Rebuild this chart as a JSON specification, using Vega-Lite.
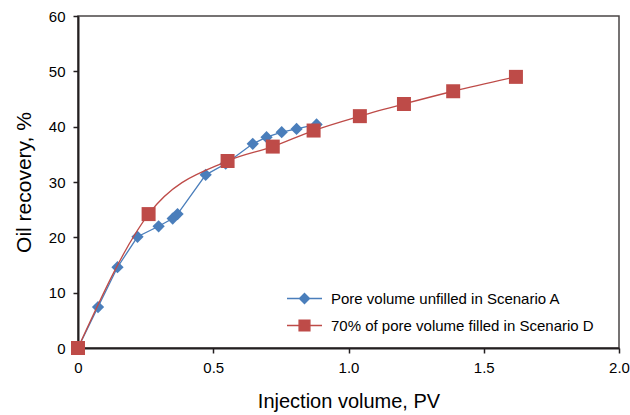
{
  "$schema": "https://vega.github.io/schema/vega-lite/v6.json",
  "width": 541,
  "height": 332,
  "autosize": {"type": "none"},
  "padding": {"left": 78, "top": 16, "right": 11, "bottom": 67},
  "background": "white",
  "config": {
    "font": "Liberation Sans",
    "view": {"stroke": "#4a4545", "strokeWidth": 1.5},
    "axis": {
      "grid": false,
      "domainColor": "#231f20",
      "domainWidth": 2,
      "tickColor": "#231f20",
      "tickWidth": 1.5,
      "tickSize": 5,
      "labelFont": "Liberation Sans",
      "labelFontSize": 15,
      "labelColor": "#000000",
      "labelFlush": false,
      "titleFont": "Liberation Sans",
      "titleFontWeight": "normal",
      "titleColor": "#000000"
    }
  },
  "data": {
    "values": [
      {"series": "Pore volume unfilled in Scenario A", "pv": 0, "rec": 0},
      {"series": "Pore volume unfilled in Scenario A", "pv": 0.074, "rec": 7.4},
      {"series": "Pore volume unfilled in Scenario A", "pv": 0.146, "rec": 14.6},
      {"series": "Pore volume unfilled in Scenario A", "pv": 0.22, "rec": 20.1},
      {"series": "Pore volume unfilled in Scenario A", "pv": 0.298, "rec": 22.0},
      {"series": "Pore volume unfilled in Scenario A", "pv": 0.35, "rec": 23.4},
      {"series": "Pore volume unfilled in Scenario A", "pv": 0.368, "rec": 24.2},
      {"series": "Pore volume unfilled in Scenario A", "pv": 0.472, "rec": 31.3},
      {"series": "Pore volume unfilled in Scenario A", "pv": 0.546, "rec": 33.3},
      {"series": "Pore volume unfilled in Scenario A", "pv": 0.646, "rec": 36.9},
      {"series": "Pore volume unfilled in Scenario A", "pv": 0.697, "rec": 38.1},
      {"series": "Pore volume unfilled in Scenario A", "pv": 0.753, "rec": 39.0},
      {"series": "Pore volume unfilled in Scenario A", "pv": 0.808, "rec": 39.6},
      {"series": "Pore volume unfilled in Scenario A", "pv": 0.882, "rec": 40.4},
      {"series": "70% of pore volume filled in Scenario D", "pv": 0, "rec": 0},
      {"series": "70% of pore volume filled in Scenario D", "pv": 0.261, "rec": 24.2},
      {"series": "70% of pore volume filled in Scenario D", "pv": 0.553, "rec": 33.8},
      {"series": "70% of pore volume filled in Scenario D", "pv": 0.72, "rec": 36.4},
      {"series": "70% of pore volume filled in Scenario D", "pv": 0.871, "rec": 39.3},
      {"series": "70% of pore volume filled in Scenario D", "pv": 1.042, "rec": 41.9},
      {"series": "70% of pore volume filled in Scenario D", "pv": 1.205, "rec": 44.1},
      {"series": "70% of pore volume filled in Scenario D", "pv": 1.387, "rec": 46.4},
      {"series": "70% of pore volume filled in Scenario D", "pv": 1.619, "rec": 49.0}
    ]
  },
  "encoding": {
    "x": {
      "field": "pv", "type": "quantitative",
      "scale": {"domain": [0, 2], "nice": false, "zero": true},
      "axis": {
        "title": "Injection volume, PV",
        "titleFontSize": 20,
        "values": [0, 0.5, 1, 1.5, 2],
        "labelExpr": "datum.value === 0 ? '0' : format(datum.value, '.1f')",
        "labelPadding": 7,
        "titlePadding": 16
      }
    },
    "y": {
      "field": "rec", "type": "quantitative",
      "scale": {"domain": [0, 60], "nice": false},
      "axis": {
        "title": "Oil recovery, %",
        "titleFontSize": 21,
        "values": [0, 10, 20, 30, 40, 50, 60],
        "labelPadding": 8,
        "titlePadding": 14
      }
    },
    "color": {
      "field": "series", "type": "nominal",
      "scale": {
        "domain": ["Pore volume unfilled in Scenario A", "70% of pore volume filled in Scenario D"],
        "range": ["#4a7ebb", "#be4b48"]
      },
      "legend": {
        "title": null,
        "orient": "none",
        "legendX": 208,
        "legendY": 264,
        "labelFont": "Liberation Sans",
        "labelFontSize": 15,
        "labelColor": "#000000",
        "labelOffset": 8,
        "labelLimit": 0,
        "symbolSize": 1225,
        "rowPadding": -4,
        "encode": {
          "symbols": {
            "update": {
              "shape": {"signal": "datum.value === 'Pore volume unfilled in Scenario A' ? 'M-1,0L1,0M0,-0.29L0.29,0L0,0.29L-0.29,0Z' : 'M-1,0L1,0M-0.31,-0.31L0.31,-0.31L0.31,0.31L-0.31,0.31Z'"},
              "fill": {"signal": "datum.value === 'Pore volume unfilled in Scenario A' ? '#4a7ebb' : '#be4b48'"},
              "stroke": {"signal": "datum.value === 'Pore volume unfilled in Scenario A' ? '#4a7ebb' : '#be4b48'"},
              "strokeWidth": {"value": 1.3},
              "opacity": {"value": 1}
            }
          }
        }
      }
    }
  },
  "layer": [
    {
      "transform": [{"filter": "datum.series === 'Pore volume unfilled in Scenario A'"}],
      "mark": {"type": "line", "strokeWidth": 1.3, "clip": false}
    },
    {
      "transform": [{"filter": "datum.series === 'Pore volume unfilled in Scenario A'"}],
      "mark": {"type": "point", "shape": "diamond", "filled": true, "size": 150, "opacity": 1, "clip": false}
    },
    {
      "transform": [{"filter": "datum.series !== 'Pore volume unfilled in Scenario A'"}],
      "mark": {"type": "line", "strokeWidth": 1.3, "interpolate": "monotone", "clip": false}
    },
    {
      "transform": [{"filter": "datum.series !== 'Pore volume unfilled in Scenario A'"}],
      "mark": {"type": "point", "shape": "square", "filled": true, "size": 196, "opacity": 1, "clip": false}
    }
  ]
}
